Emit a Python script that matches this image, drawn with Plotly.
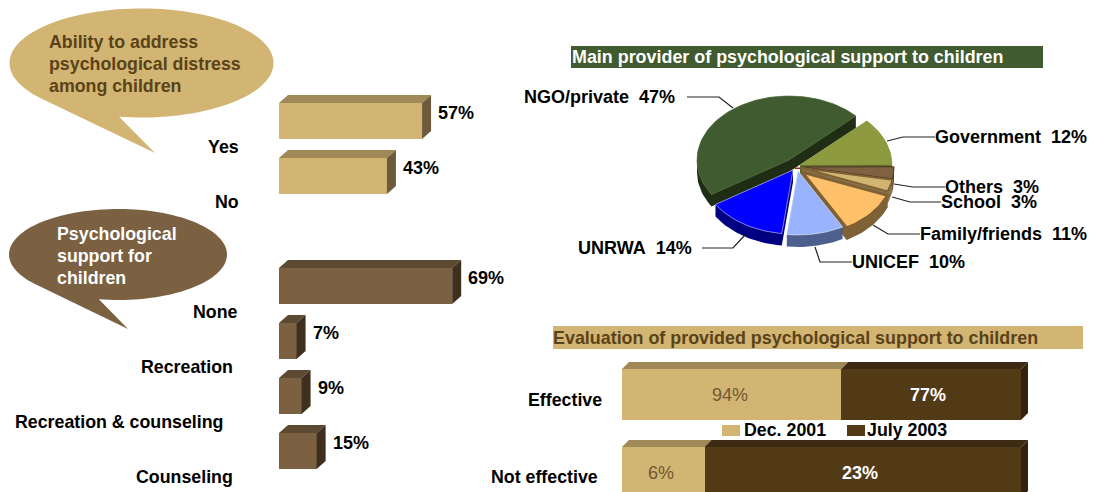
import math
import plotly.graph_objects as go

W, H = 1093, 492
FONT = "Liberation Sans, Arial, sans-serif"

# ---- data ----
ability_labels = ["Yes", "No"]
ability_values = [57, 43]
support_labels = ["None", "Recreation", "Recreation & counseling", "Counseling"]
support_values = [69, 7, 9, 15]

pie_labels = ["NGO/private", "Government", "Others", "School", "Family/friends", "UNICEF", "UNRWA"]
pie_values = [47, 12, 3, 3, 11, 10, 14]

eval_categories = ["Effective", "Not effective"]
eval_dec_2001 = [94, 6]
eval_july_2003 = [77, 23]
eval_series = ["Dec. 2001", "July 2003"]

# ---- styles ----
TAN, TAN_TOP, TAN_SIDE = "#D2B473", "#A08857", "#6E5B3C"
BRN, BRN_TOP, BRN_SIDE = "#7B6142", "#5C4931", "#3F2F1E"
DRK, DRK_TOP, DRK_SIDE = "#533A17", "#3D2A12", "#33230E"
TXT = "#5A4318"
SZ = 17.8
pie_top = ["#3F5B2F", "#8E9A3F", "#7F6242", "#D2B473", "#FFC06A", "#99B3FF", "#0000FF"]
pie_wall = ["#1F2D15", "#5F6729", "#54412B", "#8A7549", "#7F6136", "#4D5F8C", "#000080"]
pie_line = ["#5E7A4A", "#8E9A3F", "#3F2F1E", "#7F6136", "#7F6136", "#FFFFFF", "#FFFFFF"]
pie_line_w = [0.7, 0.5, 0.8, 2, 3, 0.5, 0.5]
pie_offset_px = [(-4, -7), (7, -2), (9, 0), (9, 1), (9, 5), (5, 4), (0, 3)]
PIE_X0, PIE_Y0, RX, RY, PIE_DEPTH = 793, 167, 92, 64, 12
PIE_START = 212.6

fig = go.Figure()


def P(x, y):
    return x / W, 1 - y / H


def polygon_path(pts):
    return "M" + " L".join(f"{x/W:.5f},{1-y/H:.5f}" for x, y in pts) + " Z"


def bubble(cx, cy, rx, ry, color, tail):
    """Ellipse with a pointed tail (tail = left base, tip, right base in px)."""
    a0 = math.atan2((tail[2][1] - cy) / ry, (tail[2][0] - cx) / rx)
    a1 = math.atan2((tail[0][1] - cy) / ry, (tail[0][0] - cx) / rx)
    if a1 < a0:
        a1 += 2 * math.pi
    n = 120
    pts = []
    for k in range(n + 1):
        a = a1 + (2 * math.pi - (a1 - a0)) * k / n
        pts.append((cx + rx * math.cos(a), cy + ry * math.sin(a)))
    pts += [tail[1]]
    fig.add_shape(type="path", path=polygon_path(pts), xref="paper", yref="paper",
                  fillcolor=color, line_width=0, layer="below")


def text(x, y, s, color="black", size=SZ, anchor="left", bold=True):
    xp, yp = P(x, y)
    fig.add_annotation(x=xp, y=yp, xref="paper", yref="paper", text=f"<b>{s}</b>" if bold else s,
                       showarrow=False, xanchor=anchor, yanchor="middle",
                       font=dict(family=FONT, size=size, color=color), borderpad=0, borderwidth=0)


def poly(xs, ys, xa, ya, fill, line=None, lw=0):
    fig.add_trace(go.Scatter(x=xs + xs[:1], y=ys + ys[:1], xaxis=xa, yaxis=ya, mode="lines",
                             fill="toself", fillcolor=fill,
                             line=dict(color=line or fill, width=lw),
                             hoverinfo="skip", showlegend=False))


# ---- left panel: 3-D horizontal bars ----
L_X0, L_PX, L_Y0, L_PITCH = 279, 2.51, 121, 55
L_W = 36 / L_PITCH
ldx, ldy = 9 / L_PX, 8 / L_PITCH
pos_ability = [0, 1]
pos_support = [3, 4, 5, 6]


def left_bars(values, positions, front, top, side):
    fig.add_trace(go.Bar(x=values, y=positions, orientation="h", width=L_W, marker=dict(color=front, line_width=0),
                         xaxis="x", yaxis="y", showlegend=False, hoverinfo="skip"))
    for v, p in zip(values, positions):
        t, b = p - L_W / 2, p + L_W / 2
        poly([0, ldx, v + ldx, v], [t, t - ldy, t - ldy, t], "x", "y", top)
        poly([v, v + ldx, v + ldx, v], [t, t - ldy, b - ldy, b], "x", "y", side)
        fig.add_annotation(x=v, y=p, xref="x", yref="y", text=f"<b>{v}%</b>", showarrow=False,
                           xanchor="left", yanchor="middle", xshift=14, yshift=8,
                           font=dict(family=FONT, size=18, color="black"))


left_bars(ability_values, pos_ability, TAN, TAN_TOP, TAN_SIDE)
left_bars(support_values, pos_support, BRN, BRN_TOP, BRN_SIDE)

for lab, xr, yc in zip(ability_labels + support_labels,
                       [239, 239, 238, 233, 223, 233],
                       [147, 202, 312, 367, 422, 477]):
    text(xr, yc, lab, anchor="right")

bubble(141.5, 63, 132, 54.5, TAN, [(40, 98), (155, 153), (119, 117)])
bubble(118, 254.5, 109, 45.5, BRN, [(35, 284), (128, 329), (99, 299)])
for s, y in zip(["Ability to address", "psychological distress", "among children"], [42, 64, 86]):
    text(49, y, s, color=TXT)
for s, y in zip(["Psychological", "support for", "children"], [234, 256, 278]):
    text(57, y, s, color="white")

# ---- pie, extruded ----
cum = PIE_START
for i, (v, c) in enumerate(zip(pie_values, pie_top)):
    sweep = v / sum(pie_values) * 360
    ox, oy = pie_offset_px[i]
    n = max(4, int(sweep / 2))
    xs, ys = [ox / RX], [-oy / RY]
    for k in range(n + 1):
        a = math.radians(cum - sweep * k / n)
        xs.append(ox / RX + math.cos(a))
        ys.append(-oy / RY + math.sin(a))
    # wall: convex hull of the slice and the slice shifted down
    dz = PIE_DEPTH / RY
    pts = sorted(set(zip(xs, ys)) | {(x, y - dz) for x, y in zip(xs, ys)})

    def half(points):
        h = []
        for p in points:
            while len(h) > 1 and (h[-1][0] - h[-2][0]) * (p[1] - h[-2][1]) - (h[-1][1] - h[-2][1]) * (p[0] - h[-2][0]) <= 0:
                h.pop()
            h.append(p)
        return h[:-1]

    hull = half(pts) + half(pts[::-1])
    poly([p[0] for p in hull], [p[1] for p in hull], "x3", "y3", pie_wall[i])
    poly(xs, ys, "x3", "y3", c, pie_line[i], pie_line_w[i])
    cum -= sweep

# small red sliver at the pie's centre
fig.add_shape(type="rect", xref="paper", yref="paper", x0=795 / W, x1=800 / W, y0=1 - 169 / H, y1=1 - 167.5 / H,
              fillcolor="#B02020", line_width=0)

leaders = [
    [(687, 97), (719, 97), (733, 108)],
    [(887, 141), (903, 137), (935, 137)],
    [(894, 184), (913, 187), (945, 187)],
    [(892, 197), (910, 202), (941, 202)],
    [(873, 225), (888, 234), (920, 234)],
    [(815, 247), (820, 262), (852, 262)],
    [(745, 235), (733, 248), (702, 248)],
]
for pts in leaders:
    fig.add_shape(type="path", path="M" + " L".join(f"{x/W:.5f},{1-y/H:.5f}" for x, y in pts),
                  xref="paper", yref="paper", line=dict(color="#222222", width=1.2))

pie_text_pos = [(524, 97), (935, 137), (945, 187), (941, 202), (920, 234), (852, 262), (578, 248)]
for lab, v, (x, y) in zip(pie_labels, pie_values, pie_text_pos):
    text(x, y, f"{lab}&nbsp;&nbsp;{v}%", size=18)

# ---- title boxes ----
fig.add_shape(type="rect", xref="paper", yref="paper", x0=571 / W, x1=1043 / W, y0=1 - 68 / H, y1=1 - 46 / H,
              fillcolor="#3F5B2F", line_width=0, layer="below")
text(572, 57, "Main provider of psychological support to children", color="white", size=17.9)
fig.add_shape(type="rect", xref="paper", yref="paper", x0=553 / W, x1=1083 / W, y0=1 - 349 / H, y1=1 - 326 / H,
              fillcolor=TAN, line_width=0, layer="below")
text(553, 338, "Evaluation of provided psychological support to children", color=TXT, size=17.9)

# ---- evaluation: 100 % stacked 3-D bars ----
E_X0, E_WPX, E_XEND = 622, 399, 1060
E_PITCH, E_Y0 = 78, 394.5
E_W = 51 / E_PITCH
e_pos = [0, 1]
edx, edy = 7 / E_WPX, 7 / E_PITCH
shares_a = [a / (a + b) for a, b in zip(eval_dec_2001, eval_july_2003)]
shares_b = [b / (a + b) for a, b in zip(eval_dec_2001, eval_july_2003)]
fig.add_trace(go.Bar(x=shares_a, y=e_pos, orientation="h", width=E_W, name=eval_series[0],
                     marker=dict(color=TAN, line_width=0), xaxis="x2", yaxis="y2", hoverinfo="skip",
                     showlegend=False))
fig.add_trace(go.Bar(x=shares_b, y=e_pos, orientation="h", width=E_W, name=eval_series[1],
                     marker=dict(color=DRK, line_width=0), xaxis="x2", yaxis="y2", hoverinfo="skip",
                     showlegend=False))
for sa, sb, va, vb, p in zip(shares_a, shares_b, eval_dec_2001, eval_july_2003, e_pos):
    t, b = p - E_W / 2, p + E_W / 2
    poly([0, edx, sa + edx, sa], [t, t - edy, t - edy, t], "x2", "y2", TAN_TOP)
    poly([sa, sa + edx, 1 + edx, 1], [t, t - edy, t - edy, t], "x2", "y2", DRK_TOP)
    poly([1, 1 + edx, 1 + edx, 1], [t, t - edy, b - edy, b], "x2", "y2", DRK_SIDE)
    fig.add_annotation(x=sa / 2, y=p, xref="x2", yref="y2", text=f"{va}%", showarrow=False, xshift=-2,
                       font=dict(family=FONT, size=18, color="#6F5A35"))
    fig.add_annotation(x=sa + sb / 2, y=p, xref="x2", yref="y2", text=f"<b>{vb}%</b>", showarrow=False, xshift=-3,
                       font=dict(family=FONT, size=18, color="white"))

for lab, xr, yc in zip(eval_categories, [602, 598], [400, 477]):
    text(xr, yc, lab, anchor="right")

# legend key drawn to the reference's wide swatches
for s, col, sx0, sx1, tx in zip(eval_series, [TAN, DRK], [722, 847], [740, 865], [744, 867]):
    fig.add_shape(type="rect", xref="paper", yref="paper", x0=sx0 / W, x1=sx1 / W, y0=1 - 436 / H, y1=1 - 425 / H,
                  fillcolor=col, line_width=0)
    text(tx, 430, s)

# ---- layout: every axis is hidden and pinned to the picture's pixels ----
hidden = dict(visible=False, showgrid=False, zeroline=False, fixedrange=True)
fig.update_layout(
    width=W, height=H, margin=dict(l=0, r=0, t=0, b=0, pad=0, autoexpand=False),
    paper_bgcolor="white", plot_bgcolor="rgba(0,0,0,0)", barmode="stack", bargap=0,
    font=dict(family=FONT, size=18, color="black"), showlegend=False,
    xaxis=dict(domain=[L_X0 / W, (L_X0 + 100 * L_PX) / W], range=[0, 100], anchor="y", **hidden),
    yaxis=dict(domain=[0, 1], range=[(H - L_Y0) / L_PITCH, -L_Y0 / L_PITCH], anchor="x", **hidden),
    xaxis2=dict(domain=[E_X0 / W, E_XEND / W], range=[0, (E_XEND - E_X0) / E_WPX], anchor="y2", **hidden),
    yaxis2=dict(domain=[0, 1], range=[(H - E_Y0) / E_PITCH, -E_Y0 / E_PITCH], anchor="x2", **hidden),
    xaxis3=dict(domain=[0, 1], range=[-PIE_X0 / RX, (W - PIE_X0) / RX], anchor="y3", **hidden),
    yaxis3=dict(domain=[0, 1], range=[-(H - PIE_Y0) / RY, PIE_Y0 / RY], anchor="x3", **hidden),
)

fig.write_html("out.html", config={"displayModeBar": False},
               post_script="document.body.style.margin='0';document.body.style.overflow='hidden';")
